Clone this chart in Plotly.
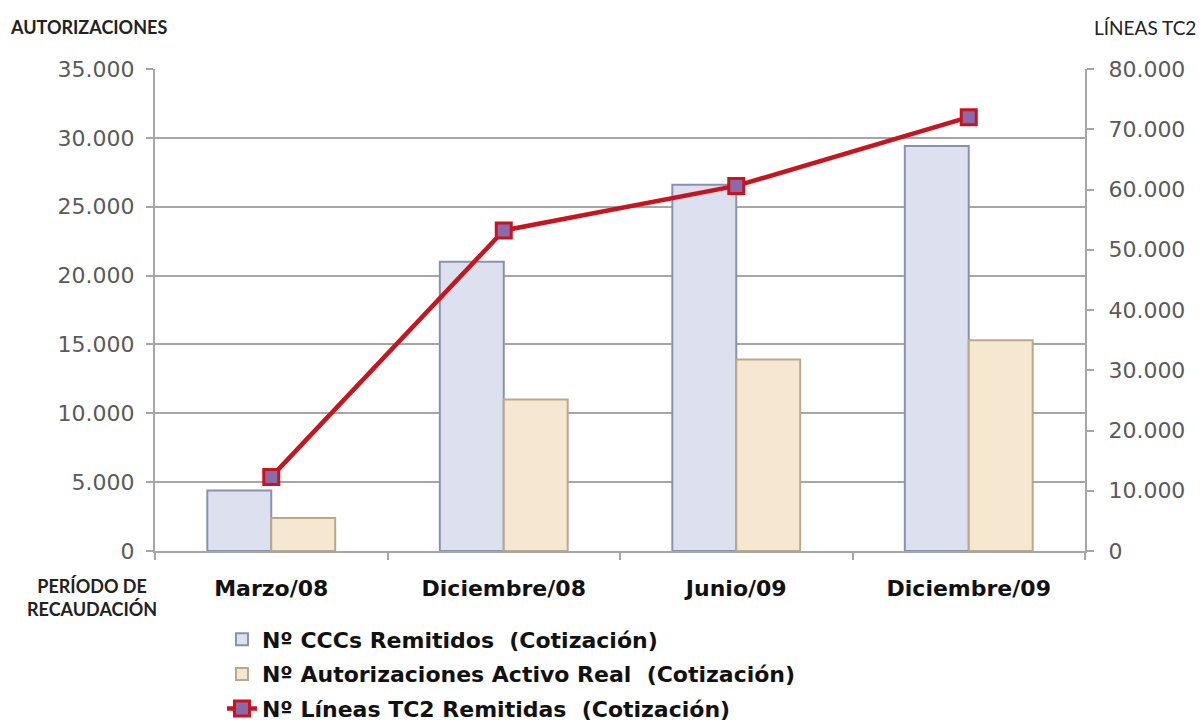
import plotly.graph_objects as go

categories = ["Marzo/08", "Diciembre/08", "Junio/09", "Diciembre/09"]
ccc_remitidos = [4400, 21000, 26600, 29400]
autorizaciones_activo = [2400, 11000, 13900, 15300]
lineas_tc2 = [12300, 53200, 60600, 72000]

name_ccc = "Nº CCCs Remitidos  (Cotización)"
name_aut = "Nº Autorizaciones Activo Real  (Cotización)"
name_lin = "Nº Líneas TC2 Remitidas  (Cotización)"

fig = go.Figure()
fig.add_trace(go.Bar(
    x=categories, y=ccc_remitidos, name=name_ccc, legendgroup="a",
    marker=dict(color="#dde1ef", line=dict(color="#8a90ad", width=2)),
))
fig.add_trace(go.Bar(
    x=categories, y=autorizaciones_activo, name=name_aut, legendgroup="b",
    marker=dict(color="#f6e8d0", line=dict(color="#b8a88c", width=2)),
))
fig.add_trace(go.Scatter(
    x=categories, y=lineas_tc2, name=name_lin, yaxis="y2", legendgroup="c",
    mode="lines+markers",
    line=dict(color="#c8141e", width=4.5),
    marker=dict(symbol="square", size=15, color="#8a6aa8",
                line=dict(color="#c8141e", width=3)),
))

tick_font = dict(family="DejaVu Sans", size=22, color="#5a5a5a")

fig.update_layout(
    width=1203, height=722,
    margin=dict(l=155, r=118, t=69, b=171, autoexpand=False),
    paper_bgcolor="white", plot_bgcolor="white",
    separators=",.",
    barmode="group", bargap=0.45, bargroupgap=0,
    showlegend=True,
    legend=dict(
        x=0.072, xanchor="left", y=-0.14, yanchor="top",
        font=dict(family="DejaVu Sans", size=22, color="#111111", weight="bold"),
        tracegroupgap=3, bgcolor="rgba(0,0,0,0)",
    ),
    xaxis=dict(
        type="category", showgrid=False,
        showline=True, linecolor="#a6a6a6", linewidth=2,
        ticks="outside", tickson="boundaries", ticklen=7, tickcolor="#a6a6a6", tickwidth=2,
        tickfont=dict(family="DejaVu Sans", size=22, color="#111111", weight="bold"),
        ticklabelstandoff=17,
    ),
    yaxis=dict(
        range=[0, 35000], dtick=5000, tickformat=",d",
        showgrid=True, gridcolor="#a6a6a6", gridwidth=2,
        showline=True, linecolor="#a6a6a6", linewidth=2,
        ticks="outside", ticklen=7, tickcolor="#a6a6a6", tickwidth=2,
        tickfont=tick_font, zeroline=False, ticklabelstandoff=7,
    ),
    yaxis2=dict(
        range=[0, 80000], dtick=10000, tickformat=",d",
        overlaying="y", side="right", showgrid=False,
        showline=True, linecolor="#a6a6a6", linewidth=2,
        ticks="outside", ticklen=7, tickcolor="#a6a6a6", tickwidth=2,
        tickfont=tick_font, zeroline=False, ticklabelstandoff=10,
    ),
    annotations=[
        dict(text="AUTORIZACIONES", xref="paper", yref="paper", x=-0.158, y=1.087,
             xanchor="left", yanchor="middle", showarrow=False,
             font=dict(family="Lato", size=18, color="#222222", weight="bold")),
        dict(text="LÍNEAS TC2", xref="paper", yref="paper", x=1.122, y=1.087,
             xanchor="right", yanchor="middle", showarrow=False,
             font=dict(family="Lato", size=19, color="#222222")),
        dict(text="PERÍODO DE<br>RECAUDACIÓN", xref="paper", yref="paper", x=-0.068, y=-0.045,
             xanchor="center", yanchor="top", showarrow=False, align="center",
             font=dict(family="Lato", size=18, color="#222222", weight="bold")),
    ],
)

fig.write_html("out.html", config={"displayModeBar": False},
               post_script="document.body.style.margin='0';")
